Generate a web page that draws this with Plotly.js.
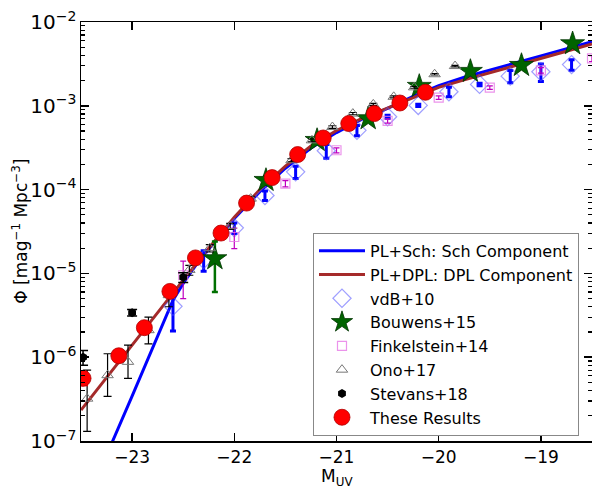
<!DOCTYPE html>
<html>
<head>
<meta charset="utf-8">
<script src="https://cdn.plot.ly/plotly-3.0.1.min.js"></script>
<style>html,body{margin:0;padding:0;background:#fff}#chart{width:592px;height:488px}</style>
</head>
<body>
<div id="chart"></div>
<script>
// PL+Sch: Schechter component
const schM   = [-23.25,-23.19,-23.0,-22.75,-22.6,-22.5,-22.34,-22.25,-22.0,-21.75,-21.5,-21.25,-21.0,-20.75,-20.5,-20.25,-20.0,-19.75,-19.5,-19.25,-19.0,-18.75,-18.5];
const schPhi = [6.6e-8,1.0e-7,3.43e-7,1.78e-6,4.79e-6,7.59e-6,1.45e-5,1.95e-5,4.52e-5,9.44e-5,1.80e-4,3.13e-4,4.79e-4,6.92e-4,9.33e-4,1.30e-3,1.74e-3,2.19e-3,2.64e-3,3.24e-3,3.94e-3,4.79e-3,5.82e-3];
// PL+DPL: DPL component
const dplM   = [-23.5,-23.25,-23.0,-22.75,-22.5,-22.25,-22.0,-21.75,-21.5,-21.25,-21.0,-20.75,-20.5,-20.25,-20.0,-19.75,-19.5,-19.25,-19.0,-18.75,-18.5];
const dplPhi = [2.34e-7,5.75e-7,1.41e-6,3.39e-6,8.32e-6,2.0e-5,4.68e-5,1.0e-4,1.91e-4,3.31e-4,5.07e-4,7.08e-4,9.44e-4,1.27e-3,1.66e-3,2.04e-3,2.47e-3,3.02e-3,3.67e-3,4.47e-3,5.46e-3];

// vdB+10
const vdbM   = [-22.6,-22.3,-22.0,-21.7,-21.4,-21.1,-20.8,-20.5,-20.2,-19.9,-19.6,-19.3,-19.0,-18.7];
const vdbPhi = [4.05e-6,1.46e-5,3.5e-5,8.5e-5,1.63e-4,2.91e-4,5.1e-4,7.4e-4,1.01e-3,1.47e-3,1.8e-3,2.26e-3,2.55e-3,3.1e-3];
const vdbErr = [2.0e-6,4.0e-6,5.0e-6,1.1e-5,2.7e-5,5.5e-5,7.0e-5,3.0e-5,3.0e-5,1.9e-4,6.0e-5,3.7e-4,6.0e-4,4.5e-4];

// Bouwens+15
const bouM   = [-22.19,-21.69,-21.19,-20.69,-20.19,-19.69,-19.19,-18.69];
const bouPhi = [1.5e-5,1.29e-4,3.87e-4,7.03e-4,1.71e-3,2.58e-3,3.04e-3,5.52e-3];
const bouErr = [9.0e-6,1.5e-5,3.0e-5,5.0e-5,1.0e-4,1.5e-4,2.0e-4,3.0e-4];

// Finkelstein+14
const finM   = [-22.5,-22.0,-21.5,-21.0,-20.5,-20.0,-19.5,-19.0,-18.5];
const finPhi = [9.5e-6,2.72e-5,1.18e-4,2.95e-4,6.6e-4,1.25e-3,1.65e-3,2.65e-3,3.68e-3];
const finErr = [4.5e-6,7.5e-6,1.0e-5,2.0e-5,4.0e-5,6.0e-5,8.0e-5,2.0e-4,3.0e-4];

// Ono+17
const onoM   = [-23.44,-23.24,-23.04,-22.84,-22.64,-22.44,-22.24,-22.04,-21.84,-21.64,-21.44,-21.24,-21.04,-20.84,-20.64,-20.44,-20.24,-20.04,-19.84];
const onoPhi = [3.2e-7,6.1e-7,8.8e-7,2.1e-6,5.5e-6,1.1e-5,2.0e-5,3.66e-5,7.8e-5,1.45e-4,2.24e-4,3.87e-4,5.58e-4,8.07e-4,1.04e-3,1.28e-3,1.66e-3,2.38e-3,2.98e-3];
const onoUp  = [3.8e-7,4.9e-7,5.1e-7,9.0e-7,1.5e-6,1.5e-6,2.0e-6,3.0e-6,5.0e-6,8.0e-6,1.0e-5,1.5e-5,2.0e-5,2.5e-5,3.0e-5,3.5e-5,4.0e-5,5.0e-5,6.0e-5];
const onoLo  = [1.9e-7,2.7e-7,3.2e-7,6.6e-7,1.5e-6,1.5e-6,2.0e-6,3.0e-6,5.0e-6,8.0e-6,1.0e-5,1.5e-5,2.0e-5,2.5e-5,3.0e-5,3.5e-5,4.0e-5,5.0e-5,6.0e-5];

// Stevans+18
const steM   = [-23.48,-23.0,-22.5];
const stePhi = [1.0e-6,3.4e-6,9.0e-6];
const steErr = [2.0e-7,3.0e-7,1.2e-6];

// These Results
const resM   = [-23.48,-23.13,-22.88,-22.63,-22.38,-22.13,-21.88,-21.63,-21.38,-21.13,-20.88,-20.63,-20.38,-20.13];
const resPhi = [5.6e-7,1.04e-6,2.25e-6,6.1e-6,1.53e-5,3.03e-5,6.9e-5,1.39e-4,2.62e-4,4.13e-4,6.14e-4,8.07e-4,1.08e-3,1.45e-3];
const resErr = [1.0e-7,1.5e-7,3.0e-7,6.0e-7,1.5e-6,2.5e-6,5.0e-6,1.0e-5,1.5e-5,2.0e-5,3.0e-5,4.0e-5,5.0e-5,6.0e-5];

const xTicks = [-23,-22,-21,-20,-19];
const xTickText = ['\u221223','\u221222','\u221221','\u221220','\u221219'];
const xTitle = 'M<sub>UV</sub>';
const yTitle = '\u03A6 [mag<sup>\u22121</sup> Mpc<sup>\u22123</sup>]';

const FONT = 'DejaVu Sans, sans-serif';

const traces = [
  {x: schM, y: schPhi, mode: 'lines', name: 'PL+Sch: Sch Component',
   line: {color: '#0000ff', width: 3}},
  {x: dplM, y: dplPhi, mode: 'lines', name: 'PL+DPL: DPL Component',
   line: {color: '#a52a2a', width: 3}},
  {x: vdbM, y: vdbPhi, mode: 'markers', name: 'vdB+10',
   marker: {symbol: 'diamond-open', size: 14, color: 'rgba(80,80,255,0.55)', line: {width: 1.2}},
   error_y: {type: 'data', array: vdbErr, color: '#0000ff', thickness: 3, width: 3}},
  {x: bouM, y: bouPhi, mode: 'markers', name: 'Bouwens+15',
   marker: {symbol: 'star', size: 18, color: '#006400', line: {color: '#003300', width: 0.8}},
   error_y: {type: 'data', array: bouErr, color: '#007000', thickness: 2.5, width: 3}},
  {x: finM, y: finPhi, mode: 'markers', name: 'Finkelstein+14',
   marker: {symbol: 'square-open', size: 9, color: 'rgba(230,120,230,0.8)', line: {width: 1.2}},
   error_y: {type: 'data', array: finErr, color: '#c000c0', thickness: 1.2, width: 3}},
  {x: onoM, y: onoPhi, mode: 'markers', name: 'Ono+17',
   marker: {symbol: 'triangle-up-open', size: 10, color: '#777777', line: {width: 1}},
   error_y: {type: 'data', array: onoUp, arrayminus: onoLo, color: '#000000', thickness: 1.2, width: 4}},
  {x: steM, y: stePhi, mode: 'markers', name: 'Stevans+18',
   marker: {symbol: 'hexagon', size: 9, color: '#000000'},
   error_y: {type: 'data', array: steErr, color: '#000000', thickness: 1.5, width: 5}},
  {x: resM, y: resPhi, mode: 'markers', name: 'These Results',
   marker: {symbol: 'circle', size: 16, color: '#ff0000', line: {color: '#b00000', width: 0.8}},
   error_y: {type: 'data', array: resErr, color: '#ff0000', thickness: 1.5, width: 5}}
];

const layout = {
  width: 592, height: 488,
  margin: {l: 81, r: 0, t: 22, b: 47},
  paper_bgcolor: '#ffffff', plot_bgcolor: '#ffffff',
  font: {family: FONT, color: '#000000', size: 16},
  showlegend: true,
  legend: {
    x: 0.454, y: 0.497, xanchor: 'left', yanchor: 'top',
    bgcolor: '#ffffff', bordercolor: '#888888', borderwidth: 1,
    font: {family: FONT, size: 16, color: '#000000'},
    itemwidth: 46, tracegroupgap: 0
  },
  xaxis: {
    range: [-23.5, -18.5], tickmode: 'array', tickvals: xTicks, ticktext: xTickText,
    ticks: 'inside', ticklen: 8, tickwidth: 1.5, tickcolor: '#000000',
    showline: true, linecolor: '#000000', linewidth: 1.5, mirror: 'allticks',
    showgrid: false, zeroline: false,
    tickfont: {family: FONT, size: 17}
  },
  yaxis: {
    type: 'log', range: [-7, -2], dtick: 1, exponentformat: 'power',
    ticks: 'inside', ticklen: 8, tickwidth: 1.5, tickcolor: '#000000',
    showline: true, linecolor: '#000000', linewidth: 1.5, mirror: 'allticks',
    showgrid: false, zeroline: false,
    minor: {ticks: 'inside', ticklen: 4, tickwidth: 1.2, tickcolor: '#000000', dtick: 'D1', showgrid: false},
    tickfont: {family: FONT, size: 16}
  },
  annotations: [
    {text: xTitle, xref: 'paper', yref: 'paper', x: 0.5, y: -0.087, xanchor: 'center', yanchor: 'middle',
     showarrow: false, font: {family: FONT, size: 17, color: '#000000'}},
    {text: yTitle, xref: 'paper', yref: 'paper', x: -0.121, y: 0.5, xanchor: 'center', yanchor: 'middle',
     textangle: -90, showarrow: false, font: {family: FONT, size: 17, color: '#000000'}}
  ]
};

Plotly.newPlot('chart', traces, layout, {displayModeBar: false, staticPlot: true});
</script>
</body>
</html>
